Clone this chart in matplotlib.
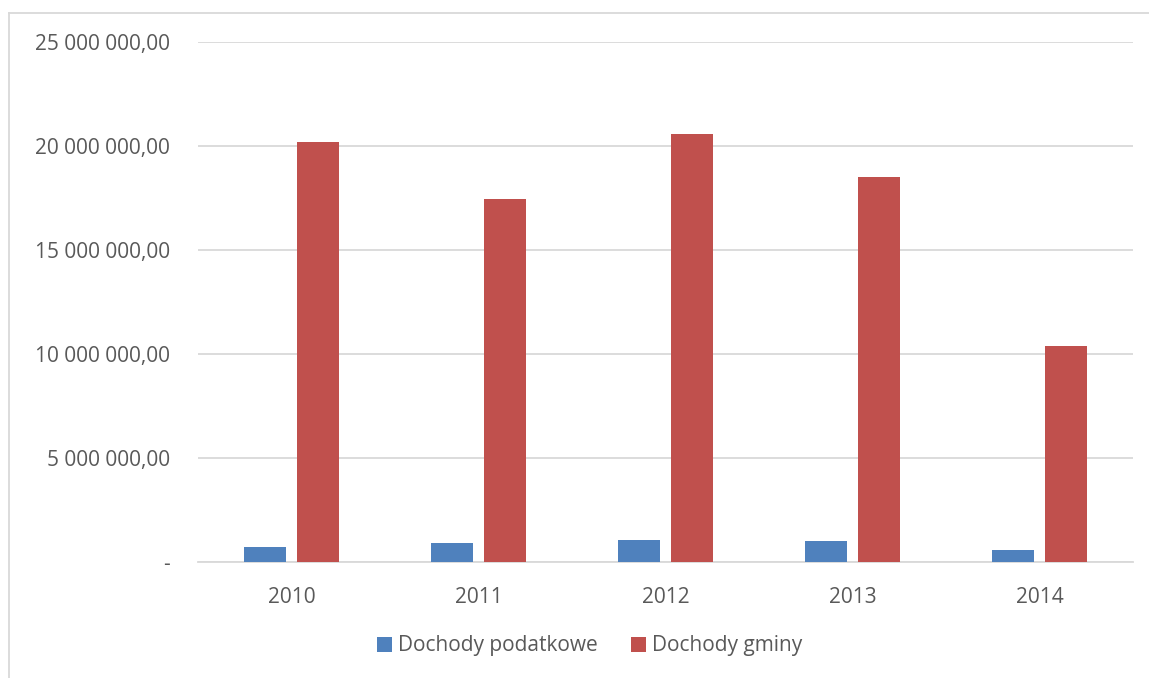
import numpy as np
import matplotlib
matplotlib.use('Agg')
import matplotlib.pyplot as plt
from matplotlib.lines import Line2D
from matplotlib.ticker import FuncFormatter

years = ['2010', '2011', '2012', '2013', '2014']
podatkowe = [710000, 900000, 1050000, 1030000, 560000]
gminy = [20170000, 17430000, 20580000, 18520000, 10380000]

plt.rcParams['font.family'] = ['Open Sans', 'DejaVu Sans']
grey_text = '#595959'

fig = plt.figure(figsize=(11.49, 6.78), dpi=100)
ax = fig.add_axes([198/1149, 1-562/678, (1133-198)/1149, (562-42)/678])

x = np.arange(len(years))
w = 0.225
ax.bar(x - 0.143, podatkowe, w, color='#4F81BD', label='Dochody podatkowe', zorder=3)
ax.bar(x + 0.143, gminy, w, color='#C0504D', label='Dochody gminy', zorder=3)

ax.set_xlim(-0.5, len(years) - 0.5)
ax.set_ylim(0, 25000000)
ax.set_yticks(np.arange(0, 25000001, 5000000))

def fmt(v, pos):
    if v == 0:
        return '-'
    return '{:,.2f}'.format(v).replace(',', ' ').replace('.', ',')

ax.yaxis.set_major_formatter(FuncFormatter(fmt))
ax.set_xticks(x)
ax.set_xticklabels(years)
ax.grid(axis='y', color='#D9D9D9', linewidth=1.3, zorder=0)
for s in ['top', 'right', 'left']:
    ax.spines[s].set_visible(False)
ax.spines['bottom'].set_color('#D9D9D9')
ax.spines['bottom'].set_linewidth(1.3)
ax.tick_params(length=0, labelsize=15, colors=grey_text)
ax.tick_params(axis='y', pad=20)
ax.tick_params(axis='x', pad=18)

fig.legend(loc='center', bbox_to_anchor=(590/1149, 1-646/678), ncol=2, frameon=False,
           fontsize=15, labelcolor=grey_text, handlelength=0.7, handleheight=0.7,
           handletextpad=0.3, columnspacing=1.6)

# chart area frame (only left and top edges visible)
fx = 9/1149
fy = 1-13/678
fig.add_artist(Line2D([fx, fx], [0, fy], color='#D9D9D9', lw=1.3, transform=fig.transFigure))
fig.add_artist(Line2D([fx, 1], [fy, fy], color='#D9D9D9', lw=1.3, transform=fig.transFigure))

fig.savefig('out.png', dpi=100)
